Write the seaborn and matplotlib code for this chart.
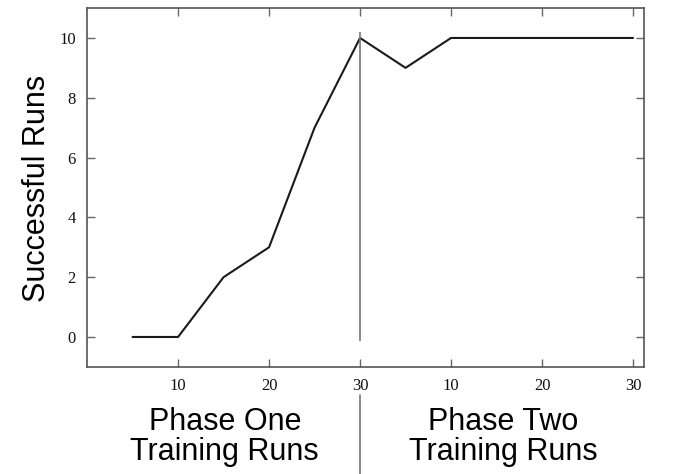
import matplotlib
matplotlib.use("Agg")
import matplotlib.pyplot as plt
import seaborn as sns
import pandas as pd

# data (x = cumulative training run position)
run_pos = [5, 10, 15, 20, 25, 30, 35, 40, 45, 50, 55, 60]
successes = [0, 0, 2, 3, 7, 10, 9, 10, 10, 10, 10, 10]
tick_pos = [10, 20, 30, 40, 50, 60]
tick_labels = ["10", "20", "30", "10", "20", "30"]
y_ticks = [0, 2, 4, 6, 8, 10]
phase_names = ["Phase One\nTraining Runs", "Phase Two\nTraining Runs"]

sns.set_style("ticks")
df = pd.DataFrame({"run": run_pos, "ok": successes})

fig = plt.figure(figsize=(6.75, 4.74), dpi=100)
ax = fig.add_axes([0.129, 0.226, 0.825, 0.757])

sns.lineplot(data=df, x="run", y="ok", ax=ax, color="#1a1a1a", linewidth=1.5)

# phase boundary
ax.vlines(30, -0.13, 10.2, color="#777777", linewidth=1.2)
ax.axvline(30, ymin=-0.30, ymax=-0.078, color="#777777", linewidth=1.2, clip_on=False)

ax.set_xlim(0, 61.2)
ax.set_ylim(-1, 11)
ax.set_xticks(tick_pos)
ax.set_xticklabels(tick_labels)
ax.set_yticks(y_ticks)
ax.tick_params(direction="in", top=True, right=True, length=6, width=1,
               color="#666666", labelsize=12, labelcolor="#111111", pad=8)
for lab in ax.get_xticklabels() + ax.get_yticklabels():
    lab.set_family("Liberation Serif")
for s in ax.spines.values():
    s.set_color("#555555")
    s.set_linewidth(1.2)

ax.set_xlabel("")
ax.set_ylabel("")
fig.text(0.055, 0.603, "Successful Runs", rotation=90, ha="center", va="center",
         family="Liberation Sans", fontsize=22, color="black")

for xc, name in zip([0.333, 0.745], phase_names):
    fig.text(xc, 0.078, name, ha="center", va="center", family="Liberation Sans",
             fontsize=22, linespacing=1.0, color="black")

fig.savefig("out.png", dpi=100)
